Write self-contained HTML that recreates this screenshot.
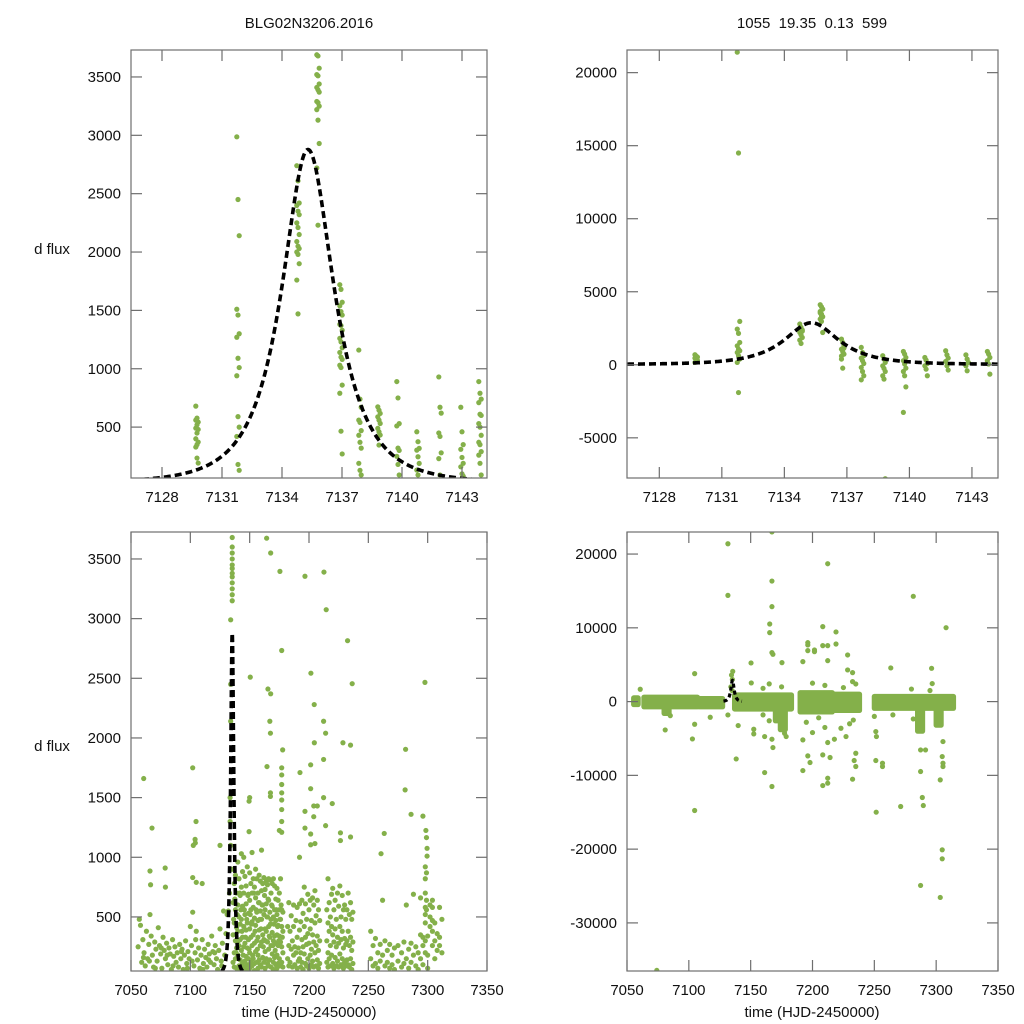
<!DOCTYPE html>
<html><head><meta charset="utf-8">
<style>
html,body{margin:0;padding:0;background:#fff;}
svg{display:block;font-family:"Liberation Sans",Arial,sans-serif;}
</style></head>
<body>
<svg id="chart" width="1024" height="1024" viewBox="0 0 1024 1024" xmlns="http://www.w3.org/2000/svg">
<rect x="0" y="0" width="1024" height="1024" fill="#fff"/>
<text x="309" y="28" font-size="15" text-anchor="middle" fill="#111">BLG02N3206.2016</text>
<text x="812" y="28" font-size="15" text-anchor="middle" fill="#111" xml:space="preserve">1055  19.35  0.13  599</text>
<text x="52" y="254" font-size="15" text-anchor="middle" fill="#111">d flux</text>
<text x="52" y="751" font-size="15" text-anchor="middle" fill="#111">d flux</text>
<text x="309" y="1017" font-size="15" text-anchor="middle" fill="#111">time (HJD-2450000)</text>
<text x="812" y="1017" font-size="15" text-anchor="middle" fill="#111">time (HJD-2450000)</text>
</svg>
<script>
// ---------- model parameters (Paczynski fit) ----------
const modelT0 = [7135.3];
const modelTE = [2.4];
const modelU0 = [0.6];
const modelFs = [3235];
const modelBase = [20];

// ---------- tick labels ----------
const zoomXTicks = [7128, 7131, 7134, 7137, 7140, 7143];
const fullXTicks = [7050, 7100, 7150, 7200, 7250, 7300, 7350];
const fluxTicksLeft = [500, 1000, 1500, 2000, 2500, 3000, 3500];
const fluxTicksTR = [-5000, 0, 5000, 10000, 15000, 20000];
const fluxTicksBR = [-30000, -20000, -10000, 0, 10000, 20000];

// ---------- top-left (zoomed, clipped) observations ----------
const tlCols = [7129.75, 7131.8, 7134.8, 7135.8, 7136.95, 7137.9, 7138.85, 7139.8, 7140.8, 7141.9, 7143.0, 7143.9];
const tlVals = [
 [680,577,543,491,449,372,329,235,192,560,520,480,400,350],
 [2987,2450,2140,1510,1460,1300,1270,1090,1010,940,590,500,420,180,130],
 [2740,2610,2420,2400,2350,2320,2250,2210,2150,2090,2050,2030,2000,1980,1900,1760,1470],
 [3690,3680,3575,3520,3510,3440,3410,3390,3370,3290,3280,3250,3220,3130,2930,2720,2230],
 [1720,1680,1570,1540,1490,1460,1380,1370,1330,1260,1230,1180,1140,1100,1080,1030,1010,860,790,465,270],
 [1160,740,670,560,540,470,430,370,320,190,130,90],
 [674,645,617,588,560,531,489,460,432,417,346],
 [890,750,530,510,320,300,250,180,90],
 [460,375,318,303,246,189,132,90],
 [930,670,620,450,420,280,230,90],
 [670,460,350,310,240,190,160,100,80],
 [890,790,740,710,610,600,530,500,430,370,350,290,260,190,90]
];

// ---------- top-right (zoomed, full range) observations ----------
const trCols = [7129.77, 7131.8, 7134.8, 7135.78, 7136.8, 7137.75, 7138.78, 7139.77, 7140.8, 7141.8, 7142.77, 7143.8];
const trVals = [
 [690,600,530,460,400,300,160],
 [21400,14500,2970,2440,2150,1530,1300,1070,960,840,620,390,160,-1900],
 [2790,2560,2380,2210,2050,1870,1690,1460,2300,2500],
 [4110,3970,3810,3650,3470,3290,3130,2970,2210,3550,3350],
 [1760,1530,1300,1070,910,730,390,-230,1150,600],
 [1190,840,620,460,280,90,-180,-460,-750,-1030],
 [620,390,160,-70,-250,-460,-750,-980,-7800],
 [910,730,500,280,50,-230,-460,-750,-1510,-3260],
 [500,320,90,-70,-300,-750],
 [960,680,460,230,-70,-360],
 [680,390,160,-70,-410],
 [910,730,500,280,50,-640]
];

// ---------- bottom-left (full season, clipped) observations [time, flux] ----------
const blObs = [
[7135.3,3680],[7135.3,3600],[7135.3,3550],[7135.3,3500],[7135.3,3450],[7135.3,3420],[7135.3,3380],[7135.3,3350],[7135.3,3300],[7135.3,3250],[7135.3,3200],[7135.3,3150],[7134,2990],[7134,2450],[7134,2140],[7133.5,1500],[7133.5,1300],[7134,1100],[7134.5,900],[7133,700],[7132,550],
[7164.3,3674],[7167.7,3550],[7175.5,3396],[7196.6,3355],[7212.6,3390],[7214.5,3075],[7232.5,2815],[7177,2733],[7150.5,2510],[7201.6,2543],[7236.4,2455],[7297.7,2466],[7165.4,2410],[7167.7,2370],[7204.4,2280],
[7167,2140],[7212.3,2140],[7167.5,2040],[7214,2040],[7204.5,1960],[7228.6,1960],[7235,1940],[7281.4,1905],[7177.8,1900],
[7060.7,1660],[7102,1750],[7164.6,1760],[7177,1750],[7192.4,1710],[7177,1690],[7177,1610],[7177,1540],[7201.4,1775],[7212.3,1820],[7281,1565],[7219.6,1450],[7212.3,1500],[7201.4,1575],[7167.5,1540],[7167.5,1510],[7150,1500],[7149.5,1470],[7177,1480],[7177,1400],[7196.6,1385],[7204,1430],[7207,1430],[7204,1340],[7286,1360],[7296,1345],[7214,1265],[7196.6,1245],[7177,1300],[7177,1210],[7175,1225],[7067.7,1245],[7104.8,1300],[7104,1150],[7104.2,1120],[7102.5,1100],[7125,1100],[7149.5,1215],[7201.4,1195],[7201.4,1105],[7205,1115],[7226.5,1205],[7226.5,1140],[7235,1170],[7263.4,1200],[7298.5,1225],[7299,1165],[7299.5,1075],[7299.5,1010],[7260.7,1030],[7192,1000],
[7066,885],[7066.5,770],[7078.8,910],[7079,750],[7102,830],[7105,790],[7110,780],[7056,250],[7057,480],[7058,430],[7059,120],[7060,310],[7061,200],[7062,90],[7063,380],[7064,150],[7065,270],[7066,520],[7067,340],[7068,180],[7069,80],[7070,290],[7071,230],[7072,130],[7073,410],[7074,260],[7075,190],[7076,70],[7077,330],[7078,220],[7079,150],[7080,280],[7081,100],[7082,240],[7083,190],[7084,60],[7085,310],[7086,170],[7087,250],[7088,120],[7089,200],[7090,80],[7091,270],[7092,150],[7093,230],[7094,60],[7095,180],[7096,300],[7097,110],[7098,210],[7099,150],[7100,420],[7101,260],[7102,540],[7103,90],[7104,200],[7105,380],[7106,140],[7107,240],[7108,70],[7109,180],[7110,310],[7111,110],[7112,230],[7113,160],[7114,80],[7115,270],[7116,190],[7117,120],[7118,340],[7119,210],[7120,100],[7121,260],[7122,150],[7123,60],[7124,220],[7125,400],[7126,130],[7127,280],[7128,550],[7129,180],[7130,360],[7131,520],[7060.5,160],[7065.5,130],[7070.5,70],[7075.5,240],[7080.5,180],[7085.5,90],[7092.5,210],[7097.5,70],[7101.5,130],[7104.5,310],[7110.5,60],[7115.5,140],[7120.5,200],[7126.5,90],
[7136,900],[7136,620],[7136,350],[7136,120],[7137,780],[7137,450],[7137,200],[7137,80],[7138,850],[7138,560],[7138,300],[7138,150],[7139,700],[7139,410],[7139,240],[7139,70],[7140,960],[7140,600],[7140,380],[7140,180],[7141,820],[7141,500],[7141,260],[7141,90],[7142,680],[7142,440],[7142,310],[7142,140],[7142,60],[7143,1030],[7143,750],[7143,480],[7143,220],[7144,880],[7144,590],[7144,330],[7144,110],[7145,1000],[7145,700],[7145,420],[7145,250],[7145,80],[7146,840],[7146,520],[7146,280],[7146,130],[7147,760],[7147,610],[7147,390],[7147,170],[7147,60],[7148,920],[7148,450],[7148,240],[7148,100],[7149,690],[7149,530],[7149,310],[7149,150],[7150,870],[7150,640],[7150,400],[7150,200],[7150,70],[7151,780],[7151,560],[7151,330],[7151,120],[7152,1040],[7152,700],[7152,460],[7152,260],[7152,90],[7153,820],[7153,580],[7153,350],[7153,150],[7154,750],[7154,490],[7154,280],[7154,110],[7154,50],[7155,900],[7155,660],[7155,430],[7155,210],[7156,820],[7156,540],[7156,300],[7156,120],[7157,700],[7157,470],[7157,330],[7157,180],[7157,70],[7158,850],[7158,620],[7158,390],[7158,140],[7159,800],[7159,550],[7159,260],[7159,100],[7160,1060],[7160,720],[7160,480],[7160,290],[7160,80],[7161,780],[7161,600],[7161,350],[7161,160],[7162,830],[7162,520],[7162,310],[7162,120],[7163,730],[7163,560],[7163,400],[7163,210],[7163,70],[7164,800],[7164,610],[7164,380],[7164,150],[7165,770],[7165,500],[7165,290],[7165,110],[7166,820],[7166,640],[7166,420],[7166,230],[7166,90],[7167,810],[7167,540],[7167,330],[7167,140],[7168,700],[7168,480],[7168,260],[7168,80],[7169,780],[7169,590],[7169,370],[7169,190],[7170,820],[7170,500],[7170,300],[7170,120],[7170,60],[7171,760],[7171,560],[7171,340],[7171,160],[7172,650],[7172,470],[7172,280],[7172,100],[7173,740],[7173,520],[7173,350],[7173,180],[7173,70],[7174,640],[7174,430],[7174,260],[7174,110],[7175,700],[7175,560],[7175,340],[7175,150],[7176,820],[7176,480],[7176,290],[7176,90],[7177,560],[7177,420],[7177,250],[7177,120],[7178,540],[7178,380],[7178,200],[7178,80],
[7136.5,480],[7137.5,650],[7138.5,200],[7139.5,520],[7140.5,300],[7141.5,700],[7142.5,560],[7143.5,380],[7144.5,180],[7145.5,560],[7146.5,330],[7147.5,480],[7148.5,680],[7149.5,230],[7150.5,520],[7151.5,440],[7152.5,180],[7153.5,700],[7154.5,380],[7155.5,560],[7156.5,230],[7157.5,620],[7158.5,480],[7159.5,400],[7160.5,600],[7161.5,250],[7162.5,680],[7163.5,300],[7164.5,500],[7165.5,650],[7166.5,340],[7167.5,440],[7168.5,600],[7169.5,260],[7170.5,440],[7171.5,220],[7172.5,560],[7173.5,420],[7174.5,300],[7175.5,480],[7176.5,600],[7177.5,330],
[7182,420],[7182,150],[7183,620],[7183,260],[7183,90],[7184,380],[7184,120],[7185,510],[7185,230],[7186,300],[7186,80],[7187,600],[7187,420],[7187,180],[7188,250],[7188,100],[7189,470],[7189,200],[7190,580],[7190,330],[7190,70],[7191,240],[7191,130],[7192,610],[7192,390],[7192,150],[7193,460],[7193,200],[7193,80],[7194,640],[7194,310],[7194,120],[7195,530],[7195,250],[7195,60],[7196,750],[7196,420],[7196,190],[7197,610],[7197,330],[7197,110],[7198,480],[7198,270],[7198,90],[7199,690],[7199,360],[7199,150],[7200,560],[7200,280],[7200,70],[7201,640],[7201,400],[7201,180],[7202,470],[7202,230],[7202,100],[7203,660],[7203,350],[7203,130],[7204,600],[7204,290],[7204,80],[7205,720],[7205,450],[7205,200],[7206,510],[7206,260],[7206,90],[7207,640],[7207,340],[7207,140],[7208,560],[7208,220],[7208,70],[7209,470],[7209,300],[7209,110],
[7215,560],[7215,300],[7215,120],[7216,820],[7216,450],[7216,200],[7216,80],[7217,620],[7217,380],[7217,150],[7218,500],[7218,260],[7218,90],[7219,690],[7219,420],[7219,180],[7220,740],[7220,350],[7220,110],[7221,560],[7221,290],[7221,70],[7222,640],[7222,400],[7222,160],[7223,480],[7223,250],[7223,90],[7224,700],[7224,330],[7224,130],[7225,590],[7225,280],[7225,80],[7226,760],[7226,420],[7226,190],[7227,500],[7227,310],[7227,100],[7228,680],[7228,380],[7228,150],[7229,560],[7229,240],[7229,70],[7230,600],[7230,320],[7230,120],[7231,480],[7231,270],[7231,90],[7232,560],[7232,300],[7232,140],[7233,700],[7233,380],[7233,100],[7234,520],[7234,260],[7234,80],[7235,620],[7235,330],[7235,150],[7236,480],[7236,220],[7236,60],[7237,540],[7237,290],[7237,110],
[7252,380],[7252,150],[7254,260],[7254,90],[7256,320],[7256,110],[7258,200],[7258,70],[7260,270],[7260,130],[7262,640],[7262,180],[7264,300],[7264,90],[7266,220],[7266,120],[7268,270],[7268,70],[7270,180],[7270,100],[7272,240],[7272,60],[7275,260],[7275,130],[7278,200],[7278,80],[7280,290],[7280,110],[7282,600],[7282,150],[7284,230],[7284,70],[7286,280],[7286,120],[7288,690],[7288,180],[7290,250],[7290,90],[7292,200],[7292,60],[7294,660],[7294,150],[7294,350],[7296,330],[7296,260],[7296,100],[7298,920],[7298,820],[7298,700],[7298,580],[7298,520],[7298,450],[7298,300],[7298,200],[7299,870],[7299,640],[7299,560],[7300,340],[7300,180],[7300,70],[7302,600],[7302,500],[7302,420],[7304,640],[7304,580],[7304,470],[7304,380],[7304,260],[7306,450],[7306,300],[7306,150],[7308,360],[7308,220],[7310,580],[7310,330],[7310,260],[7312,480],[7312,200]
];

// ---------- bottom-right: dense observing-season bands [start, end, low, high] ----------
const brBandStart = [7055.4, 7063.7, 7108.5, 7137, 7190, 7216, 7250, 7174, 7285, 7300, 7080, 7170];
const brBandEnd   = [7059, 7107, 7127.3, 7183, 7216, 7238, 7314, 7178, 7289, 7304, 7084, 7172];
const brBandLow   = [-400, -700, -700, -1000, -1400, -1200, -900, -3800, -4000, -3200, -1600, -2600];
const brBandHigh  = [500, 600, 400, 900, 1200, 1000, 700, -800, -800, -800, -800, -800];
// bottom-right outliers [time, flux]
const brObs = [
[7131.6,21400],[7131.6,14400],[7167.2,23000],[7167.2,16340],[7167.2,12870],[7165.4,10520],[7165.4,9350],[7167.2,6640],[7168,6410],[7175.3,5280],[7150.3,5240],[7150.5,2530],[7212.3,18690],[7208.3,10160],[7196.2,7990],[7196.2,7680],[7196.2,6910],[7201.6,7000],[7201.6,6770],[7208.3,7585],[7212.3,7585],[7212.3,5550],[7219,9440],[7219,7810],[7228.4,6320],[7228.4,4290],[7232.4,3930],[7232.4,2710],[7235,2390],[7192.2,5420],[7281.5,14270],[7308,10020],[7263.3,4560],[7296.3,4510],[7296.8,2440],[7104.7,3790],[7060.7,1670],[7134.5,3600],[7135.5,4100],[7135.2,3000],[7134,2000],[7135,1500],[7165,2400],[7175,2000],[7160,1800],[7200,2500],[7210,2200],[7225,1900],[7280,1700],[7295,1500],
[7080.9,-3840],[7104.7,-3070],[7102.9,-5060],[7104.7,-14760],[7117.3,-2120],[7131.6,-1810],[7139.9,-3250],[7138.3,-7770],[7152.5,-3750],[7152.5,-4380],[7161.3,-4740],[7161.3,-9620],[7167.2,-5100],[7168,-6230],[7167.2,-11510],[7177.4,-4290],[7178.7,-4740],[7192.2,-5190],[7192.2,-9350],[7196.2,-7360],[7198,-8260],[7208.3,-7220],[7208.3,-11380],[7212.3,-11060],[7212.3,-10380],[7214.2,-7580],[7212.3,-5550],[7217.7,-5100],[7223,-3610],[7227.1,-4740],[7232.4,-10520],[7233.7,-7990],[7235,-7000],[7235,-8800],[7251.2,-4060],[7251.7,-4740],[7251.5,-14990],[7251.2,-7990],[7256.6,-8350],[7256.6,-8800],[7271.3,-14220],[7281.5,-2350],[7287.4,-6550],[7291.4,-6550],[7287.4,-9480],[7288.8,-13000],[7289.6,-14090],[7287.4,-24920],[7303.3,-26550],[7304.9,-20090],[7304.9,-21310],[7303.3,-10610],[7304.9,-7450],[7305.5,-5420],[7305.5,-8350],[7305.5,-8800],[7074.1,-36440],[7287.4,-3840],[7288.8,-2840],[7230,-3000],[7210,-3500],[7200,-4200],[7175,-2500],[7165,-2600],[7085,-1900],[7233,-2500],[7205,-2200],[7195,-2800],[7250,-2000],[7265,-1800],[7160,-1800]
];

// ---------- layout ----------
const NS = 'http://www.w3.org/2000/svg';
const svg = document.getElementById('chart');
const GREEN = '#84b04a';

function mk(tag, attrs, parent) {
  const e = document.createElementNS(NS, tag);
  for (const k in attrs) e.setAttribute(k, attrs[k]);
  (parent || svg).appendChild(e);
  return e;
}

function panel(name, box, xr, yr, xticks, yticks) {
  const g = mk('g', {});
  
  
  const sx = v => box.x + (v - xr[0]) / (xr[1] - xr[0]) * box.w;
  const sy = v => box.y + box.h - (v - yr[0]) / (yr[1] - yr[0]) * box.h;
  const clipId = name + '-clip';
  const cp = mk('clipPath', { id: clipId }, g);
  mk('rect', { x: box.x, y: box.y, width: box.w, height: box.h }, cp);
  const plot = mk('g', { 'clip-path': 'url(#' + clipId + ')' }, g);
  
  
  const axes = mk('g', { stroke: '#6e6e6e', 'stroke-width': 1.2, fill: 'none' }, g);
  
  
  mk('rect', { x: box.x, y: box.y, width: box.w, height: box.h }, axes);
  xticks.forEach(t => {
    const x = sx(t);
    if (x < box.x - 0.5 || x > box.x + box.w + 0.5) return;
    mk('line', { x1: x, y1: box.y + box.h, x2: x, y2: box.y + box.h - 11 }, axes);
    mk('line', { x1: x, y1: box.y, x2: x, y2: box.y + 11 }, axes);
    const lbl = mk('text', { x: x, y: box.y + box.h + 24, 'font-size': 15, 'text-anchor': 'middle', fill: '#111' }, g);
    lbl.textContent = t;
    
    
  });
  yticks.forEach(t => {
    const y = sy(t);
    mk('line', { x1: box.x, y1: y, x2: box.x + 11, y2: y }, axes);
    mk('line', { x1: box.x + box.w, y1: y, x2: box.x + box.w - 11, y2: y }, axes);
    const lbl = mk('text', { x: box.x - 10, y: y + 5, 'font-size': 15, 'text-anchor': 'end', fill: '#111' }, g);
    lbl.textContent = t;
    
    
  });
  return { plot, sx, sy, xr };
}

function dot(p, t, f) {
  const c = mk('circle', { cx: p.sx(t), cy: p.sy(f), r: 2.6, fill: GREEN }, p.plot);
  
  
}

function modelFlux(t) {
  const tau = (t - modelT0[0]) / modelTE[0];
  const u = Math.sqrt(modelU0[0] * modelU0[0] + tau * tau);
  const A = (u * u + 2) / (u * Math.sqrt(u * u + 4));
  return modelBase[0] + modelFs[0] * (A - 1);
}

function model(p, t0, t1, step, width, dash) {
  let d = '';
  for (let t = t0; t <= t1 + 1e-9; t += step) {
    d += (d ? 'L' : 'M') + p.sx(t).toFixed(2) + ',' + p.sy(modelFlux(t)).toFixed(2);
  }
  const path = mk('path', { d: d, fill: 'none', stroke: '#000', 'stroke-width': width, 'stroke-dasharray': dash }, p.plot);
  
  
}

function colDots(p, cols, vals) {
  cols.forEach((t, i) => vals[i].forEach((f, j) => dot(p, t + ((j % 3) - 1) * 0.06, f)));
}

const pTL = panel('zoom-panel-clipped', { x: 131, y: 50, w: 356, h: 428 }, [7126.45, 7144.25], [64, 3731], zoomXTicks, fluxTicksLeft);
colDots(pTL, tlCols, tlVals);
model(pTL, 7126.45, 7144.25, 0.05, 3.6, '7,4');

const pTR = panel('zoom-panel-full', { x: 627, y: 50, w: 371, h: 428 }, [7126.45, 7144.25], [-7750, 21550], zoomXTicks, fluxTicksTR);
colDots(pTR, trCols, trVals);
model(pTR, 7126.45, 7144.25, 0.05, 3.6, '7,4');

const pBL = panel('season-panel-clipped', { x: 131, y: 532, w: 356, h: 439 }, [7050, 7350], [47, 3726], fullXTicks, fluxTicksLeft);
blObs.forEach(o => dot(pBL, o[0], o[1]));
model(pBL, 7126.45, 7144.25, 0.02, 3.6, '7,4');

const pBR = panel('season-panel-full', { x: 627, y: 532, w: 371, h: 439 }, [7050, 7350], [-36520, 22990], fullXTicks, fluxTicksBR);
brBandStart.forEach((s, i) => {
  const x0 = pBR.sx(s), x1 = pBR.sx(brBandEnd[i]);
  const y0 = pBR.sy(brBandHigh[i]), y1 = pBR.sy(brBandLow[i]);
  const r = mk('rect', { x: x0 - 2.6, y: y0 - 2.6, width: x1 - x0 + 5.2, height: y1 - y0 + 5.2, rx: 2.6, fill: GREEN }, pBR.plot);
  
  
});
brObs.forEach(o => dot(pBR, o[0], o[1]));
model(pBR, 7128, 7143, 0.1, 3.2, '4,3');
</script>
</body></html>
